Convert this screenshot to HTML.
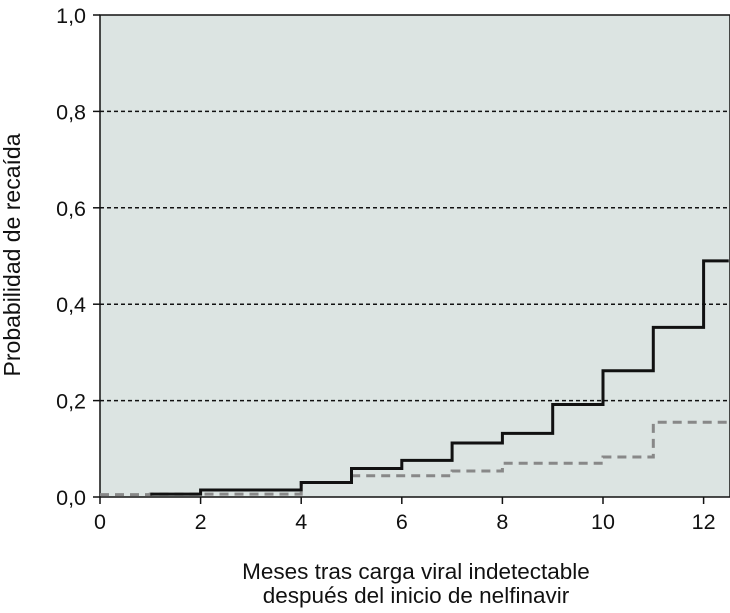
<!DOCTYPE html>
<html><head><meta charset="utf-8"><style>
body{margin:0;background:#fff;}
svg text{font-family:"Liberation Sans",sans-serif;fill:#111;}
</style></head><body>
<svg width="730" height="608" id="c">
<rect x="100" y="15" width="630" height="482" fill="#dce4e2" stroke="#111" stroke-width="1.5"/>
<g id="grid"></g><g id="axes"></g><g id="series"></g>
<text x="20" y="255" font-size="23" text-anchor="middle" transform="rotate(-90 20 255)">Probabilidad de recaída</text>
<text x="416" y="579" font-size="22.5" text-anchor="middle">Meses tras carga viral indetectable</text>
<text x="416" y="603" font-size="22.5" text-anchor="middle">después del inicio de nelfinavir</text>
</svg>
<script>
const yTicks=[0,0.2,0.4,0.6,0.8,1.0];
const yTickLabels=["0,0","0,2","0,4","0,6","0,8","1,0"];
const xTicks=[0,2,4,6,8,10,12];
const solidX=[1,2,4,5,6,7,8,9,10,11,12,12.5];
const solidY=[0.006,0.0145,0.030,0.059,0.076,0.112,0.132,0.192,0.262,0.352,0.49];
const dashX=[0,1,4,5,7,8,10,11,12.5];
const dashY=[0.005,0.006,0.030,0.044,0.054,0.070,0.083,0.155];
const sx=v=>100+v*50.3, sy=v=>497-v*482;
const NS="http://www.w3.org/2000/svg";
function mk(t,a,p){const e=document.createElementNS(NS,t);for(const k in a)e.setAttribute(k,a[k]);p.appendChild(e);return e;}
const grid=document.getElementById('grid'),axes=document.getElementById('axes'),ser=document.getElementById('series');
yTicks.forEach((v,i)=>{
 if(v>0&&v<1){const g=mk('line',{x1:100,x2:730,y1:sy(v),y2:sy(v),stroke:'#111','stroke-width':1.5,'stroke-dasharray':'4,3'},grid);
 
 }
 const t=mk('line',{x1:93,x2:100,y1:sy(v),y2:sy(v),stroke:'#111','stroke-width':1.5},axes);
 
 
 const l=mk('text',{x:86,y:sy(v)+8,'font-size':21.5,'text-anchor':'end'},axes);l.textContent=yTickLabels[i];
 
 
});
xTicks.forEach(v=>{
 const t=mk('line',{x1:sx(v),x2:sx(v),y1:497,y2:504,stroke:'#111','stroke-width':1.5},axes);
 
 
 const l=mk('text',{x:sx(v),y:529,'font-size':21.5,'text-anchor':'middle'},axes);l.textContent=v;
 
 
});
function step(xs,ys){let d='M'+sx(xs[0])+','+sy(ys[0]);for(let i=0;i<ys.length;i++){d+=' H'+sx(xs[i+1]);if(i+1<ys.length)d+=' V'+sy(ys[i+1]);}return d;}
const dp=mk('path',{d:step(dashX,dashY),fill:'none',stroke:'#888','stroke-width':3,'stroke-dasharray':'9,6'},ser);


const sp=mk('path',{d:step(solidX,solidY),fill:'none',stroke:'#111','stroke-width':3},ser);


</script>
</body></html>
